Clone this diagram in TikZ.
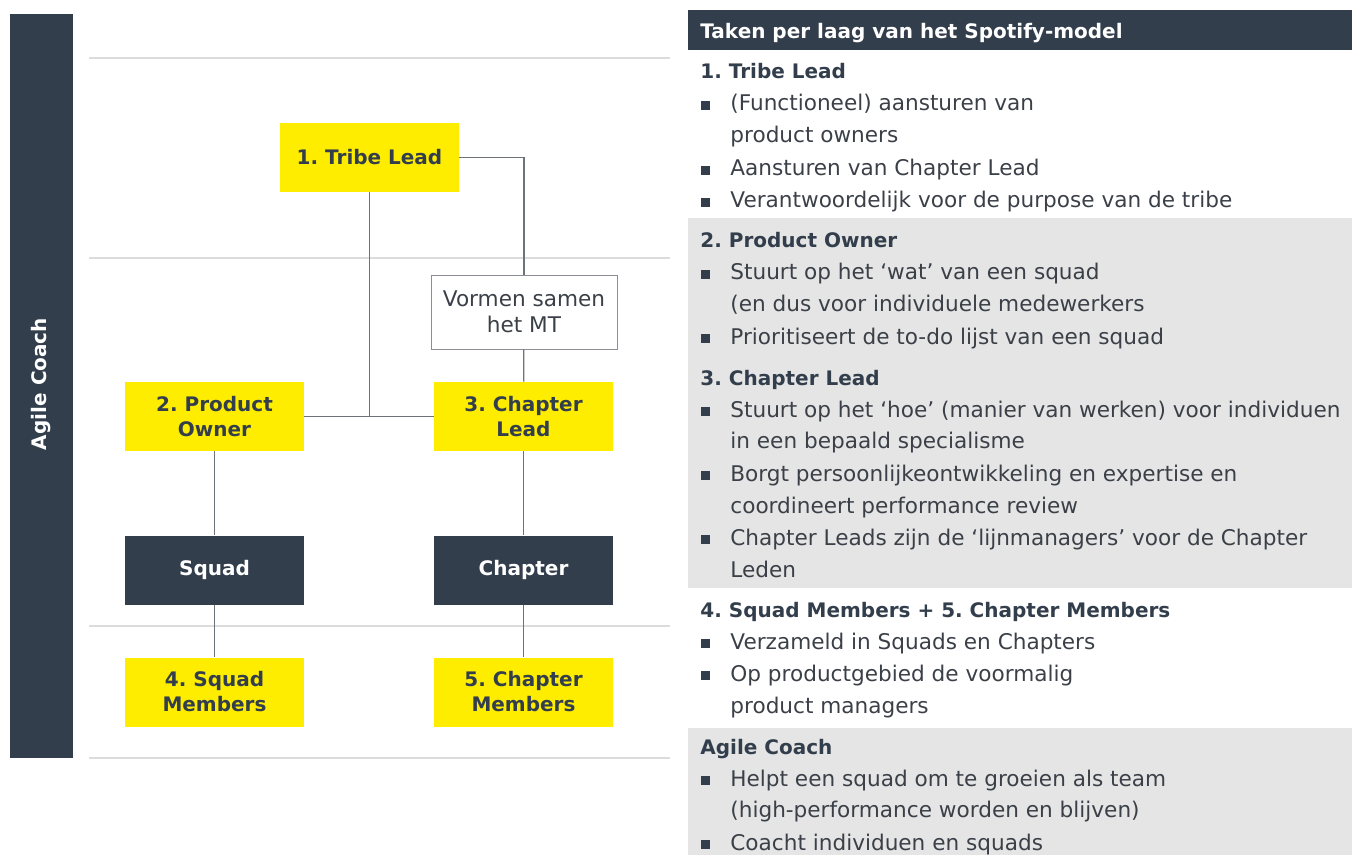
\documentclass[tikz,border=0pt]{standalone}
\usepackage{fontspec}
\setmainfont{DejaVu Sans}
\usepackage{tikz}
\usetikzlibrary{positioning}
\definecolor{navy}{HTML}{333E4C}
\definecolor{eyyellow}{HTML}{FFED00}
\definecolor{band}{HTML}{E4E5E4}
\definecolor{layerline}{HTML}{DCDCDC}
\definecolor{linkgrey}{HTML}{6E737B}
\definecolor{ink}{HTML}{3B4048}
\frenchspacing

\begin{document}
\begin{tikzpicture}[x=0.5pt, y=-0.5pt,
  role/.style={fill=eyyellow, minimum width=89.5pt, minimum height=34.5pt, inner sep=1pt,
               font=\bfseries\fontsize{10}{12.5}\selectfont, text=navy, align=center},
  unit/.style={role, fill=navy, text=white},
  note/.style={draw=linkgrey!80, fill=white, minimum width=93pt, minimum height=37pt, inner sep=1pt,
               font=\fontsize{10.8}{13}\selectfont, text=ink, align=center},
  link/.style={draw=linkgrey, line width=0.6pt},
  head/.style={anchor=base west, inner sep=0pt, font=\bfseries\fontsize{10}{12}\selectfont, text=navy},
  item/.style={anchor=base west, inner sep=0pt, font=\fontsize{10.8}{13}\selectfont, text=ink},
  sq/.style={fill=navy, minimum size=4.2pt, inner sep=0pt}]
\useasboundingbox (0,0) rectangle (1352,855);

% left: coach bar and layers
\fill[navy] (10,14) rectangle (73,758);
\node[rotate=90, font=\bfseries\fontsize{10}{12}\selectfont, text=white] (coach) at (41.5,384) {Agile Coach};
\foreach \y in {58,258,626,758}
  \draw[layerline, line width=1pt] (89,\y) -- (670,\y);

\node[role] (tribe) at (369.5,157.5) {1. Tribe Lead};
\node[note] (mt) at (524,312) {Vormen samen\\het MT};
\node[role] (po) at (214.5,416.5) {2. Product\\Owner};
\node[role] (cl) at (523.5,416.5) {3. Chapter\\Lead};
\node[unit] (squad) at (214.5,570) {Squad};
\node[unit] (chapter) at (523.5,570) {Chapter};
\node[role] (sm) at (214.5,692) {4. Squad\\Members};
\node[role] (cm) at (523.5,692) {5. Chapter\\Members};

\draw[link] (tribe.east) -| (mt.north);
\draw[link] (mt) -- (cl);
\draw[link] (po) -- (cl);
\draw[link] (tribe) -- (tribe |- po);
\draw[link] (po) -- (squad);
\draw[link] (squad) -- (sm);
\draw[link] (cl) -- (chapter);
\draw[link] (chapter) -- (cm);

% right: task list per layer
\fill[band] (688,218) rectangle (1352,588);
\fill[band] (688,728) rectangle (1352,855);
\fill[navy] (688,10) rectangle (1352,50);
\node[head, text=white] (title) at (700,39) {Taken per laag van het Spotify-model};

\foreach \y/\txt [count=\i] in {79/{1. Tribe Lead}, 248/{2. Product Owner}, 385/{3. Chapter Lead},
    617/{4. Squad Members + 5. Chapter Members}, 754/{Agile Coach}}
  \node[head] (h\i) at (700,\y) {\txt};

\foreach \y/\txt [count=\i] in {111/{(Functioneel) aansturen van}, 176/{Aansturen van Chapter Lead},
    208/{Verantwoordelijk voor de purpose van de tribe}, 280/{Stuurt op het ‘wat’ van een squad},
    344/{Prioritiseert de to-do lijst van een squad},
    417/{Stuurt op het ‘hoe’ (manier van werken) voor individuen},
    481/{Borgt persoonlijkeontwikkeling en expertise en},
    545/{Chapter Leads zijn de ‘lijnmanagers’ voor de Chapter},
    649/{Verzameld in Squads en Chapters}, 681/{Op productgebied de voormalig},
    786/{Helpt een squad om te groeien als team}, 850/{Coacht individuen en squads}} {
  \node[sq] (b\i) at (705.5,\y-5.5) {};
  \node[item] (t\i) at (730,\y) {\txt};
}

\foreach \y/\txt [count=\i] in {143/{product owners}, 312/{(en dus voor individuele medewerkers},
    448/{in een bepaald specialisme}, 513/{coordineert performance review}, 577/{Leden},
    713/{product managers}, 817/{(high-performance worden en blijven)}}
  \node[item] (c\i) at (730,\y) {\txt};
\end{tikzpicture}
\end{document}
